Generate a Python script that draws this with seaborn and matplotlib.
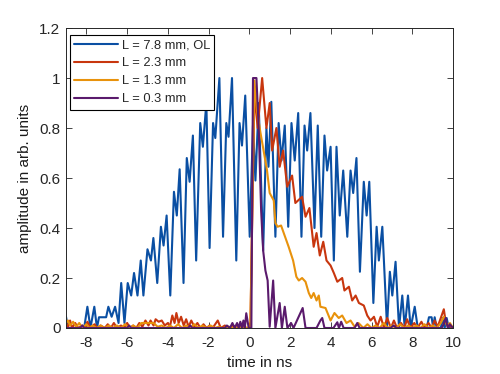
import numpy as np
import pandas as pd
import matplotlib
matplotlib.use("Agg")
import matplotlib.pyplot as plt
import seaborn as sns

# ---------------- data ----------------
blue_t = [-9.00, -8.90, -8.11, -7.95, -7.80, -7.61, -7.48, -7.38, -7.03, -6.92, -6.76, -6.59,
          -6.42, -6.29, -6.13, -5.97, -5.80, -5.66, -5.49, -5.33, -5.20, -5.00, -4.83, -4.71,
          -4.52, -4.34, -4.21, -4.06, -3.88, -3.70, -3.56, -3.42, -3.23, -3.07, -2.93, -2.77,
          -2.61, -2.41, -2.28, -2.11, -1.95, -1.78, -1.67, -1.47, -1.29, -1.13, -1.02, -0.85,
          -0.64, -0.48, -0.36, -0.20, 0.02, 0.18, 0.30, 0.46, 0.68, 0.84, 0.94, 1.08,
          1.28, 1.44, 1.58, 1.74, 1.91, 2.07, 2.23, 2.40, 2.56, 2.71, 2.84, 3.00,
          3.20, 3.36, 3.53, 3.69, 3.82, 3.99, 4.15, 4.28, 4.44, 4.61, 4.81, 4.97,
          5.10, 5.26, 5.43, 5.62, 5.76, 5.89, 6.09, 6.25, 6.36, 6.53, 6.76, 6.90,
          7.02, 7.18, 7.35, 7.51, 7.63, 7.79, 7.92, 8.12, 8.27, 8.71, 8.82, 8.95,
          9.03, 9.10, 9.20, 9.40, 9.50, 9.59, 9.69, 9.79, 9.99]
blue_a = [0.045, 0.0, 0.0, 0.085, 0.0, 0.085, 0.0, 0.043, 0.043, 0.085, 0.045, 0.085,
          0.02, 0.18, 0.02, 0.18, 0.13, 0.22, 0.13, 0.27, 0.13, 0.315, 0.27, 0.36,
          0.18, 0.405, 0.33, 0.45, 0.13, 0.545, 0.45, 0.635, 0.18, 0.68, 0.585, 0.77,
          0.27, 0.82, 0.725, 0.9, 0.32, 0.82, 0.76, 1.0, 0.365, 0.82, 0.765, 1.0,
          0.27, 0.82, 0.73, 0.93, 0.365, 0.81, 0.59, 0.9, 0.31, 0.8, 0.645, 0.905,
          0.365, 0.82, 0.67, 0.81, 0.405, 0.82, 0.67, 0.86, 0.365, 0.81, 0.71, 0.86,
          0.4, 0.81, 0.365, 0.77, 0.63, 0.725, 0.27, 0.725, 0.45, 0.63, 0.365, 0.63,
          0.54, 0.68, 0.225, 0.585, 0.45, 0.585, 0.1, 0.405, 0.27, 0.405, 0.005, 0.225,
          0.13, 0.265, 0.0, 0.13, 0.0, 0.13, 0.0, 0.085, 0.0, 0.0, 0.043, 0.043,
          0.0, 0.043, 0.0, 0.0, 0.04, 0.0, 0.04, 0.0, 0.0]

red_t = [-9.0, -8.9, -8.8, -8.7, -8.55, -8.4, -8.2, -8.05, -7.95, -7.8, -7.6, -7.45,
         -7.3, -7.1, -6.95, -6.8, -6.65, -6.5, -6.3, -6.15, -6.0, -5.85, -5.7, -5.55,
         -5.4, -5.25, -5.1, -4.95, -4.85, -4.7, -4.6, -4.45, -4.3, -4.15, -4.0, -3.9,
         -3.78, -3.67, -3.58, -3.47, -3.35, -3.22, -3.1, -2.98, -2.85, -2.7, -2.55, -2.4,
         -2.25, -2.1, -1.95, -1.8, -1.55, -1.4, -1.2, -1.0, -0.8, -0.6, -0.4, -0.2,
         0.0, 0.05, 0.25, 0.41, 0.63, 0.84, 1.00, 1.12, 1.33, 1.49, 1.66, 1.86,
         2.10, 2.26, 2.59, 2.76, 2.95, 3.16, 3.30, 3.46, 3.63, 3.79, 3.99, 4.15,
         4.32, 4.56, 4.67, 4.89, 5.05, 5.22, 5.38, 5.62, 5.79, 5.95, 6.12, 6.28,
         6.45, 6.61, 6.77, 6.95, 7.1, 7.25, 7.45, 7.6, 7.75, 7.9, 8.1, 8.25,
         8.45, 8.6, 8.8, 8.95, 9.1, 9.25, 9.4, 9.55, 9.65, 9.8, 10.0]
red_a = [0.02, 0.005, 0.03, 0.0, 0.02, 0.0, 0.01, 0.0, 0.025, 0.0, 0.015, 0.0,
         0.01, 0.0, 0.015, 0.0, 0.02, 0.0, 0.01, 0.0, 0.02, 0.0, 0.01, 0.0,
         0.02, 0.005, 0.03, 0.01, 0.03, 0.01, 0.035, 0.025, 0.03, 0.01, 0.02, 0.005,
         0.05, 0.02, 0.06, 0.02, 0.045, 0.01, 0.035, 0.005, 0.03, 0.005, 0.02, 0.0,
         0.015, 0.0, 0.01, 0.0, 0.03, 0.0, 0.01, 0.0, 0.01, 0.0, 0.01, 0.0,
         0.0, 0.0, 0.94, 0.8, 1.0, 0.8, 0.9, 0.71, 0.8, 0.645, 0.71, 0.565,
         0.61, 0.5, 0.525, 0.445, 0.48, 0.325, 0.38, 0.29, 0.345, 0.27, 0.25, 0.22,
         0.185, 0.2, 0.15, 0.165, 0.11, 0.13, 0.1, 0.09, 0.05, 0.03, 0.045, 0.005,
         0.045, 0.0, 0.04, 0.0, 0.03, 0.0, 0.02, 0.0, 0.035, 0.0, 0.02, 0.0,
         0.025, 0.0, 0.02, 0.0, 0.03, 0.005, 0.04, 0.075, 0.02, 0.01, 0.0]

orange_t = [-9.0, -8.9, -8.8, -8.65, -8.5, -8.35, -8.2, -8.0, -7.85, -7.7, -7.5, -7.3,
            -7.1, -6.9, -6.7, -6.5, -6.3, -6.1, -5.9, -5.7, -5.5, -5.3, -5.1, -4.9,
            -4.7, -4.5, -4.3, -4.1, -3.9, -3.7, -3.5, -3.3, -3.1, -2.9, -2.7, -2.5,
            -2.3, -2.1, -1.9, -1.7, -1.5, -1.3, -1.0, -0.7, -0.4, 0.0, 0.05,
            0.25, 0.38, 0.54, 0.70, 0.87, 1.00, 1.20, 1.28, 1.39, 1.56, 1.69, 1.93,
            2.15, 2.31, 2.43, 2.59, 2.76, 2.92, 3.04, 3.16, 3.30, 3.41, 3.49, 3.74,
            3.99, 4.18, 4.39, 4.56, 4.77, 4.97, 5.17, 5.36, 5.6, 5.8, 6.0, 6.2,
            6.4, 6.6, 6.8, 7.0, 7.2, 7.4, 7.6, 7.8, 8.0, 8.2, 8.4, 8.6,
            8.8, 9.0, 9.2, 9.4, 9.55, 9.7, 9.85, 10.0]
orange_a = [0.02, 0.03, 0.01, 0.025, 0.005, 0.02, 0.0, 0.015, 0.0, 0.01, 0.0, 0.01,
            0.0, 0.01, 0.0, 0.01, 0.0, 0.015, 0.0, 0.01, 0.0, 0.02, 0.02, 0.02,
            0.02, 0.005, 0.01, 0.0, 0.01, 0.0, 0.015, 0.0, 0.01, 0.0, 0.015, 0.0,
            0.01, 0.0, 0.01, 0.0, 0.005, 0.0, 0.005, 0.0, 0.005, 0.0, 0.0,
            0.99, 0.87, 0.785, 0.71, 0.63, 0.54, 0.51, 0.42, 0.405, 0.41, 0.38, 0.325,
            0.27, 0.205, 0.19, 0.2, 0.185, 0.14, 0.12, 0.14, 0.11, 0.13, 0.085, 0.08,
            0.03, 0.06, 0.04, 0.05, 0.02, 0.03, 0.005, 0.02, 0.0, 0.015, 0.0, 0.01,
            0.0, 0.02, 0.0, 0.01, 0.0, 0.015, 0.0, 0.01, 0.0, 0.01, 0.0, 0.015,
            0.0, 0.01, 0.0, 0.02, 0.045, 0.01, 0.02, 0.0]

purple_t = [-9.0, -8.3, -8.2, -8.1, -6.0, -5.9, -5.8, -3.0, -2.9, -2.8, -1.2, -1.1,
            -0.95, -0.83, -0.72, -0.6, -0.52, -0.44, -0.36, -0.29, -0.22, -0.15, -0.03,
            0.10, 0.18, 0.35, 0.46, 0.58, 0.68, 0.79, 0.90, 1.00, 1.17, 1.28, 1.49,
            1.60, 1.74, 1.87, 2.05, 2.17, 2.62, 2.76, 3.30, 3.49, 3.58, 3.69, 4.13,
            4.32, 4.40, 4.51, 4.63, 5.17, 5.30, 5.41, 6.94, 7.08, 7.23, 9.45, 9.56,
            9.64, 9.74, 9.84, 10.0]
purple_a = [0.0, 0.0, 0.01, 0.0, 0.0, 0.01, 0.0, 0.0, 0.01, 0.0, 0.0, 0.01,
            0.0, 0.02, 0.0, 0.02, 0.0, 0.025, 0.0, 0.03, 0.0, 0.059, 0.0,
            0.0, 1.0, 1.0, 0.8, 0.47, 0.31, 0.23, 0.19, 0.005, 0.19, 0.0, 0.1,
            0.0, 0.085, 0.0, 0.02, 0.0, 0.08, 0.0, 0.0, 0.03, 0.04, 0.0, 0.0,
            0.023, 0.0, 0.025, 0.0, 0.0, 0.02, 0.0, 0.0, 0.01, 0.0, 0.0, 0.02,
            0.04, 0.0, 0.015, 0.0]

labels = ["L = 7.8 mm, OL", "L = 2.3 mm", "L = 1.3 mm", "L = 0.3 mm"]
colors = ["#0A4FA3", "#C8360E", "#E8920C", "#5A1A6C"]
x_ticks = [-8, -6, -4, -2, 0, 2, 4, 6, 8, 10]
y_ticks = [0, 0.2, 0.4, 0.6, 0.8, 1.0, 1.2]
y_tick_labels = ["0", "0.2", "0.4", "0.6", "0.8", "1", "1.2"]

# ---------------- plotting ----------------
sns.set_style("ticks")
plt.rcParams["font.family"] = ["Liberation Sans", "DejaVu Sans"]
plt.rcParams["axes.unicode_minus"] = False

fig = plt.figure(figsize=(5.0, 3.74), dpi=100)
ax = fig.add_axes([0.132, 0.123, 0.774, 0.802])

series = [(blue_t, blue_a), (red_t, red_a), (orange_t, orange_a), (purple_t, purple_a)]
for (t, a), lab, col in zip(series, labels, colors):
    df = pd.DataFrame({"time": t, "amp": a})
    sns.lineplot(data=df, x="time", y="amp", ax=ax, color=col, lw=1.5,
                 label=lab, estimator=None, sort=False)

ax.set_xlim(-9, 10)
ax.set_ylim(0, 1.2)
ax.set_xticks(x_ticks)
ax.set_xticklabels([str(v) for v in x_ticks])
ax.set_yticks(y_ticks)
ax.set_yticklabels(y_tick_labels)
ax.tick_params(direction="in", length=4, width=0.6, colors="#262626",
               labelsize=11, top=True, right=True, pad=4)
ax.tick_params(axis="x", pad=6)
for s in ax.spines.values():
    s.set_visible(True)
    s.set_color("#262626")
    s.set_linewidth(0.7)
ax.set_xlabel("time in ns", fontsize=11, color="#1a1a1a", labelpad=4)
ax.set_ylabel("amplitude in arb. units", fontsize=11, color="#1a1a1a", labelpad=5)

leg = ax.legend(loc="upper left", bbox_to_anchor=(0.01, 0.977), fontsize=9.3,
                frameon=True, fancybox=False, framealpha=1, edgecolor="black",
                handlelength=3.4, handletextpad=0.25, labelspacing=0.45,
                borderpad=0.35, borderaxespad=0.0)
leg.get_frame().set_linewidth(0.8)

fig.savefig("out.png", dpi=100)
